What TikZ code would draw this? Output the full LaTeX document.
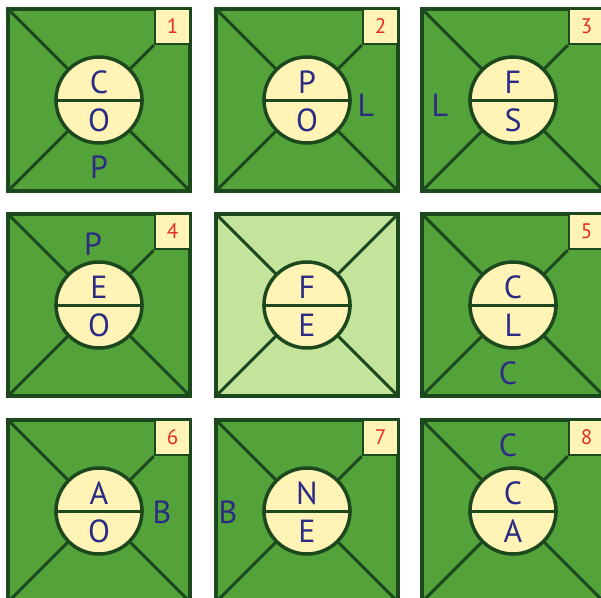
\documentclass[tikz,border=0pt]{standalone}
\usepackage{fontspec}
\setmainfont{PT Sans}
\usepackage{tikz}
\usetikzlibrary{calc,positioning}
\definecolor{leaf}{RGB}{84,162,58}
\definecolor{paleleaf}{RGB}{196,228,156}
\definecolor{pine}{RGB}{28,72,30}
\definecolor{cream}{RGB}{255,244,182}
\definecolor{ink}{RGB}{42,44,132}
\definecolor{tomato}{RGB}{228,46,36}
\tikzset{
  tile/.style={draw=pine, fill=#1, line width=4pt},
  tile/.default=leaf,
  spoke/.style={draw=pine, line width=3pt},
  disc/.style={circle, draw=pine, fill=cream, line width=3.5pt,
    minimum size=86pt, inner sep=0pt},
  letter/.style={text=ink, font=\fontsize{32}{32}\selectfont, inner sep=0pt},
  numbox/.style={rectangle, draw=pine, fill=cream, line width=2.5pt,
    minimum size=35pt, inner sep=0pt,
    text=tomato, font=\fontsize{21}{21}\selectfont},
}

\begin{document}
\begin{tikzpicture}[x=1pt, y=-1pt]
  \useasboundingbox (0,0) rectangle (601,597);
  \fill[white] (0,0) rectangle (601,597);
  \clip (0,0) rectangle (601,597);

  % numbered tiles
  \foreach \x/\y/\n/\up/\lo in {8/9/1/C/O, 216/9/2/P/O, 422/9/3/F/S,
      8/214/4/E/O, 422/214/5/C/L,
      8/420/6/A/O, 216/420/7/N/E, 422/420/8/C/A} {
    \begin{scope}[shift={(\x,\y)}]
      \draw[tile] (0,0) rectangle (182,182);
      \node[numbox] (b\n) at (164.5,17.5) {\n};
      \coordinate (k\n) at (91,91);
      \draw[spoke] (0,0) -- (k\n) (0,182) -- (k\n) (182,182) -- (k\n)
        (b\n.south west) -- (k\n);
      \node[disc] (c\n) at (k\n) {};
      \draw[spoke] (c\n.west) -- (c\n.east);
      \node[letter] (u\n) at ($(c\n)+(0,-18)$) {\up};
      \node[letter] (l\n) at ($(c\n)+(0,20)$) {\lo};
      \node[numbox] at (b\n) {\n};
    \end{scope}
  }

  % centre tile
  \begin{scope}[shift={(216,214)}]
    \draw[tile=paleleaf] (0,0) rectangle (182,182);
    \coordinate (k0) at (91,91);
    \draw[spoke] (0,0) -- (k0) (0,182) -- (k0) (182,182) -- (k0) (182,0) -- (k0);
    \node[disc] (c0) at (k0) {};
    \draw[spoke] (c0.west) -- (c0.east);
    \node[letter] (u0) at ($(c0)+(0,-18)$) {F};
    \node[letter] (l0) at ($(c0)+(0,20)$) {E};
  \end{scope}

  % outer letters
  \node[letter] (p1) at ($(c1)+(0,67)$) {P};
  \node[letter] (r2) at ($(c2)+(59,5)$) {L};
  \node[letter] (r3) at ($(c3)+(-73,5)$) {L};
  \node[letter] (p4) at ($(c4)+(-6,-61)$) {P};
  \node[letter] (r5) at ($(c5)+(-5,68)$) {C};
  \node[letter] (r6) at ($(c6)+(63,1)$) {B};
  \node[letter] (r7) at ($(c7)+(-79,1)$) {B};
  \node[letter] (r8) at ($(c8)+(-5,-66)$) {C};
\end{tikzpicture}
\end{document}
